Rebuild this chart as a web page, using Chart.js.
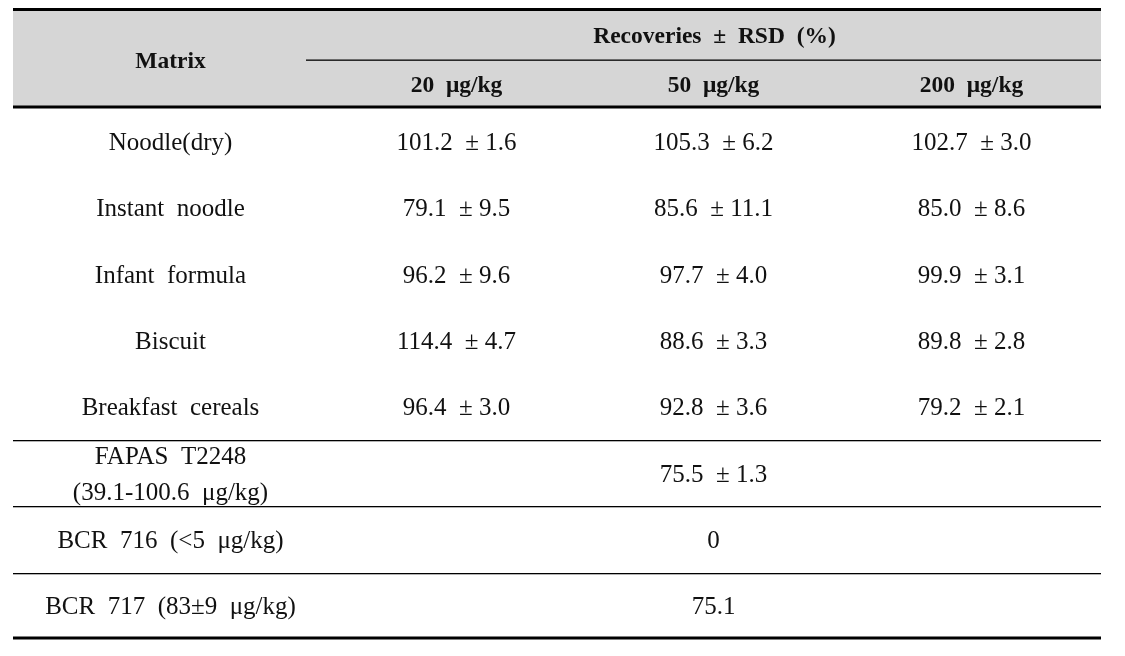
<!DOCTYPE html>
<html lang="en">
<head>
    <script src="https://cdn.jsdelivr.net/npm/chart.js"></script>
    <meta charset="UTF-8">
    <title>Recoveries</title>
    <style>
        body { margin: 0; background: #fff; }
    </style>
</head>
<body>
    <canvas id="myChart" width="1125" height="656"></canvas>
    <script>
        // table data
        const matrices = ['Noodle(dry)', 'Instant  noodle', 'Infant  formula', 'Biscuit', 'Breakfast  cereals',
                          ['FAPAS  T2248', '(39.1-100.6  μg/kg)'], 'BCR  716  (<5  μg/kg)', 'BCR  717  (83±9  μg/kg)'];
        const levels = ['20  μg/kg', '50  μg/kg', '200  μg/kg'];
        const rec20 = [101.2, 79.1, 96.2, 114.4, 96.4];
        const rsd20 = [1.6, 9.5, 9.6, 4.7, 3.0];
        const rec50 = [105.3, 85.6, 97.7, 88.6, 92.8, 75.5, 0, 75.1];
        const rsd50 = [6.2, 11.1, 4.0, 3.3, 3.6, 1.3, null, null];
        const rec200 = [102.7, 85.0, 99.9, 89.8, 79.2];
        const rsd200 = [3.0, 8.6, 3.1, 2.8, 2.1];

        const colWidths = [315, 257, 257, 259];
        const font = '"Liberation Serif", "DejaVu Serif", serif';

        function fmt(v, r) {
            let s = v === 0 ? '0' : v.toFixed(1);
            if (r !== null && r !== undefined) s += '  ± ' + r.toFixed(1);
            return s;
        }

        const edges = [0];
        colWidths.forEach(w => edges.push(edges[edges.length - 1] + w));
        const centers = colWidths.map((w, i) => edges[i] + w / 2);
        const rowIdx = matrices.map((m, i) => i);

        const columns = [rec20.map((v, i) => fmt(v, rsd20[i])),
                         rec50.map((v, i) => fmt(v, rsd50[i])),
                         rec200.map((v, i) => fmt(v, rsd200[i]))];

        const tablePlugin = {
            id: 'table',
            afterDraw(chart) {
                const ctx = chart.ctx;
                const x = chart.scales.x, y = chart.scales.y;
                const a = chart.chartArea;
                const rowH = y.getPixelForValue(1) - y.getPixelForValue(0);
                ctx.save();
                // header
                ctx.fillStyle = '#d6d6d6';
                ctx.fillRect(a.left, 11, a.right - a.left, a.top - 11);
                ctx.fillStyle = '#000';
                ctx.fillRect(a.left, 8, a.right - a.left, 3);
                ctx.fillRect(a.left, a.top - 1.5, a.right - a.left, 3);
                ctx.fillRect(a.left, a.bottom - 1.5, a.right - a.left, 3);
                ctx.fillRect(x.getPixelForValue(edges[1]) - 22, 59.5, a.right - x.getPixelForValue(edges[1]) + 22, 1.3);
                // row separators
                [5, 6, 7].forEach(i => {
                    const py = Math.round(y.getPixelForValue(i) - rowH / 2) + 1;
                    ctx.fillRect(a.left, py, a.right - a.left, 1.3);
                });
                ctx.fillStyle = '#111';
                ctx.textAlign = 'center';
                ctx.textBaseline = 'middle';
                ctx.font = 'bold 23.5px ' + font;
                ctx.fillText('Matrix', x.getPixelForValue(centers[0]), 62);
                ctx.fillText('Recoveries  ±  RSD  (%)', x.getPixelForValue((edges[1] + edges[4]) / 2), 37);
                levels.forEach((l, i) => ctx.fillText(l, x.getPixelForValue(centers[i + 1]), 86));
                ctx.font = '25px ' + font;
                const dy = 3;
                matrices.forEach((m, i) => {
                    const py = y.getPixelForValue(i) + dy;
                    if (Array.isArray(m)) {
                        ctx.fillText(m[0], x.getPixelForValue(centers[0]), py - 18);
                        ctx.fillText(m[1], x.getPixelForValue(centers[0]), py + 18);
                    } else {
                        ctx.fillText(m, x.getPixelForValue(centers[0]), py);
                    }
                });
                columns.forEach((col, c) => {
                    col.forEach((s, i) => ctx.fillText(s, x.getPixelForValue(centers[c + 1]), y.getPixelForValue(i) + dy));
                });
                ctx.restore();
            }
        };

        new Chart(document.getElementById('myChart'), {
            type: 'scatter',
            data: {
                datasets: columns.map((col, c) => ({
                    data: col.map((s, i) => ({ x: centers[c + 1], y: i })),
                    pointRadius: 0
                }))
            },
            options: {
                responsive: false,
                animation: false,
                layout: { padding: { left: 13, right: 24, top: 107, bottom: 18 } },
                plugins: { legend: { display: false }, tooltip: { enabled: false } },
                scales: {
                    x: { type: 'linear', min: 0, max: edges[4], display: false },
                    y: { type: 'category', labels: rowIdx, offset: true, display: false }
                }
            },
            plugins: [tablePlugin]
        });
    </script>
</body>
</html>
